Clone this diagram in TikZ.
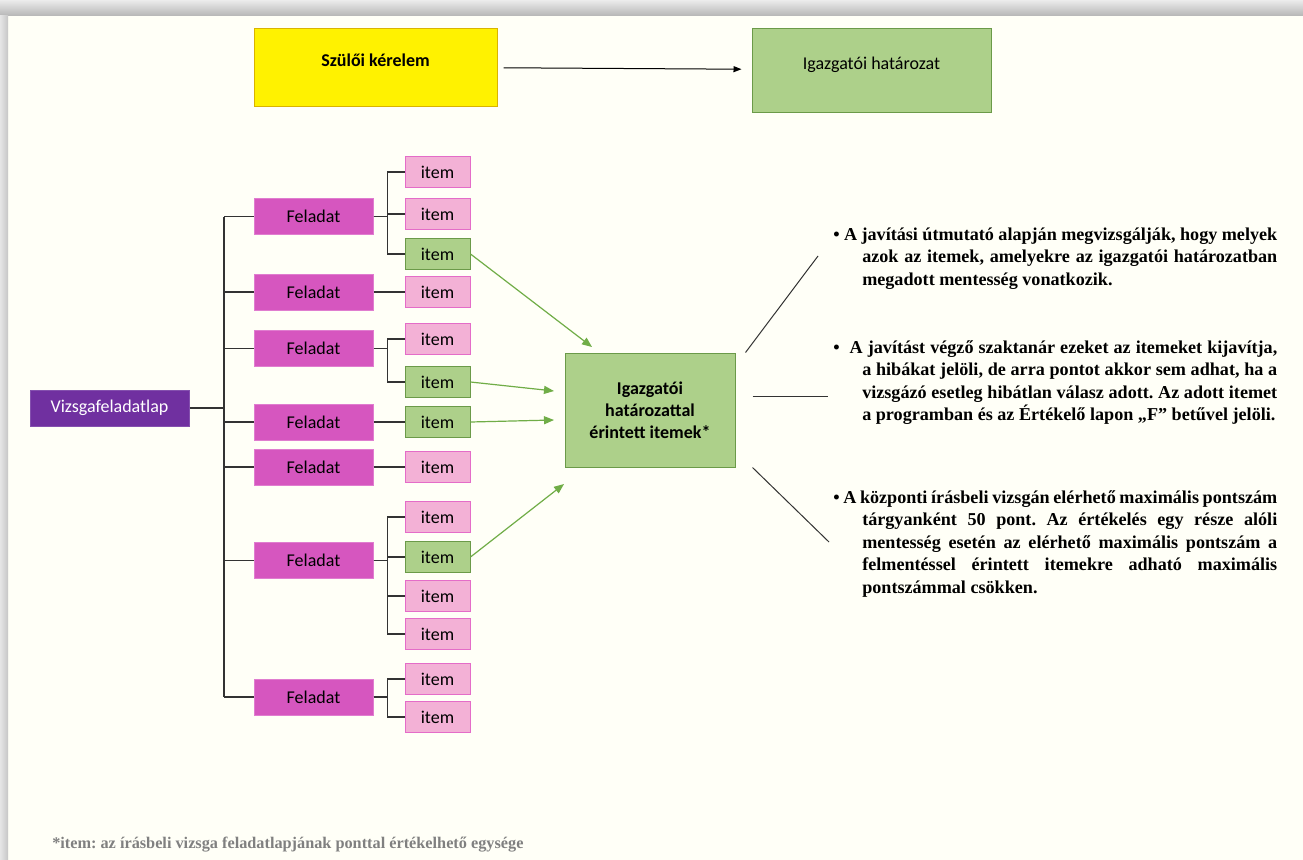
\documentclass[tikz,border=0pt]{standalone}
\usepackage{fontspec}
\setmainfont{Liberation Serif}
\newfontfamily\calibri{Carlito}
\usetikzlibrary{arrows.meta}
\frenchspacing

\definecolor{cream}{HTML}{FFFFF7}
\definecolor{yellowline}{HTML}{D9B300}
\definecolor{greenfill}{HTML}{ADD08A}
\definecolor{greenline}{HTML}{6B9A49}
\definecolor{feladatfill}{HTML}{D656BF}
\definecolor{feladatline}{HTML}{E07DCF}
\definecolor{itemfill}{HTML}{F3B1D6}
\definecolor{itemline}{HTML}{E46CC8}
\definecolor{vizsgafill}{HTML}{7030A0}
\definecolor{vizsgaline}{HTML}{8450AE}
\definecolor{arrowgreen}{HTML}{70AD47}
\definecolor{footgray}{HTML}{808080}

\begin{document}
\begin{tikzpicture}[x=0.75pt, y=-0.75pt,
    box/.style={draw, line width=0.75pt, inner sep=0pt, font=\calibri\fontsize{13.5}{16.5}\selectfont},
    feladat/.style={box, draw=feladatline, fill=feladatfill, minimum width=89.25pt, minimum height=27pt},
    itembox/.style={box, draw=itemline, fill=itemfill, minimum width=48.75pt, minimum height=23.25pt},
    gitem/.style={itembox, draw=greenline, fill=greenfill},
    treeline/.style={line width=1pt, draw=black!80},
    garrow/.style={draw=arrowgreen, line width=0.9pt, -{Triangle[length=7.5pt, width=6pt]}},
    pointer/.style={draw=black!80, line width=0.75pt},
    notetext/.style={anchor=base west, inner sep=0pt, text width=333pt, align=justify,
        font=\bfseries\fontsize{13.6}{16.9}\selectfont,
        execute at begin node={\hyphenpenalty=10000\exhyphenpenalty=10000\tolerance=9999\hbadness=10000\hfuzz=4pt\hangindent=21.75pt\hangafter=1}}]
    \useasboundingbox (0,0) rectangle (1303,860);

    % page and shadow
    \fill[cream] (0,0) rectangle (1303,860);
    \shade[top color=gray!15, bottom color=gray!55] (0,0) rectangle (1303,15);
    \shade[left color=gray!20, right color=gray!45] (0,15) rectangle (8,860);

    % top boxes
    \node[box, draw=yellowline, fill=yellow, font=\calibri\bfseries\fontsize{13.5}{16.5}\selectfont,
        minimum width=182.25pt, text height=28.5pt, text depth=30pt] (szulo) at (375.5,67) {Szülői kérelem};
    \node[box, draw=greenline, fill=greenfill, minimum width=179.25pt,
        text height=30.75pt, text depth=32.25pt] (hatarozat) at (871.5,70) {Igazgatói határozat};
    \draw[line width=0.75pt, -{Triangle[length=6pt, width=4.5pt]}, shorten <=4.5pt, shorten >=7.5pt] (szulo) -- (hatarozat);

    % tree
    \node[box, draw=vizsgaline, fill=vizsgafill, text=white, minimum width=119.25pt, minimum height=27pt] (vizsga) at (109.5,408) {Vizsgafeladatlap};
    \foreach \n/\y in {1/216.5, 2/292, 3/348.5, 4/422, 5/467, 6/560.5, 7/697}
        \node[feladat] (f\n) at (313.5,\y) {Feladat};
    \foreach \n/\y/\s in {1a/172/itembox, 1b/214/itembox, 1c/254/gitem, 2a/292/itembox,
        3a/339/itembox, 3b/382/gitem, 4a/422/gitem, 5a/467/itembox,
        6a/517/itembox, 6b/557/gitem, 6c/596/itembox, 6d/634/itembox,
        7a/679/itembox, 7b/717/itembox}
        \node[\s] (i\n) at (437.5,\y) {item};

    \coordinate (trunk) at (224,408);
    \draw[treeline] (vizsga.east) -- (trunk);
    \draw[treeline] (trunk |- f1.west) -- (trunk |- f7.west);
    \foreach \n in {1,...,7}
        \draw[treeline] (trunk |- f\n.west) -- (f\n.west);
    \foreach \f/\i in {1/1a, 1/1b, 1/1c, 2/2a, 3/3a, 3/3b, 4/4a, 5/5a,
        6/6a, 6/6b, 6/6c, 6/6d, 7/7a, 7/7b}
        \draw[treeline] (f\f.east) -- ++(14,0) |- (i\i.west);

    % affected items
    \node[box, draw=greenline, fill=greenfill, font=\calibri\bfseries\fontsize{13.5}{16.5}\selectfont,
        align=center, minimum width=127.5pt, minimum height=85.5pt] (erintett) at (650,410)
        {Igazgatói\\határozattal\\érintett itemek*};
    \coordinate (t1) at (592,347);
    \coordinate (t2) at (554,391);
    \coordinate (t3) at (554,420);
    \coordinate (t4) at (564,484);
    \draw[garrow] (i1c.east) -- (t1);
    \draw[garrow] (i3b.east) -- (t2);
    \draw[garrow] (i4a.east) -- (t3);
    \draw[garrow] (i6b.east) -- (t4);

    % notes
    \coordinate (p1) at (818,256);
    \coordinate (p2) at (828,396);
    \coordinate (p3) at (829,542);
    \draw[pointer] ([xshift=7.5pt]erintett.north east) -- (p1);
    \draw[pointer] ([xshift=12.75pt, yshift=10.5pt]erintett.east) -- (p2);
    \draw[pointer] ([xshift=12.75pt]erintett.south east) -- (p3);

    \node[notetext] (note1) at (833,240) {• A javítási útmutató alapján megvizsgálják, hogy melyek\linebreak
        azok az itemek, amelyekre az igazgatói határozatban\linebreak
        megadott mentesség vonatkozik.};
    \node[notetext] (note2) at (833,353) {• \ A javítást végző szaktanár ezeket az itemeket kijavítja,\linebreak
        a hibákat jelöli, de arra pontot akkor sem adhat, ha a\linebreak
        vizsgázó esetleg hibátlan válasz adott. Az adott itemet\linebreak
        a programban és az Értékelő lapon „F” betűvel jelöli.};
    \node[notetext] (note3) at (833,503) {• A központi írásbeli vizsgán elérhető maximális pontszám\linebreak
        tárgyanként 50 pont. Az értékelés egy része alóli\linebreak
        mentesség esetén az elérhető maximális pontszám a\linebreak
        felmentéssel érintett itemekre adható maximális\linebreak
        pontszámmal csökken.};

    \node[anchor=base west, inner sep=0pt, text=footgray, font=\bfseries\fontsize{12.2}{14}\selectfont] (foot) at (52,848)
        {*item: az írásbeli vizsga feladatlapjának ponttal értékelhető egysége};
\end{tikzpicture}
\end{document}
